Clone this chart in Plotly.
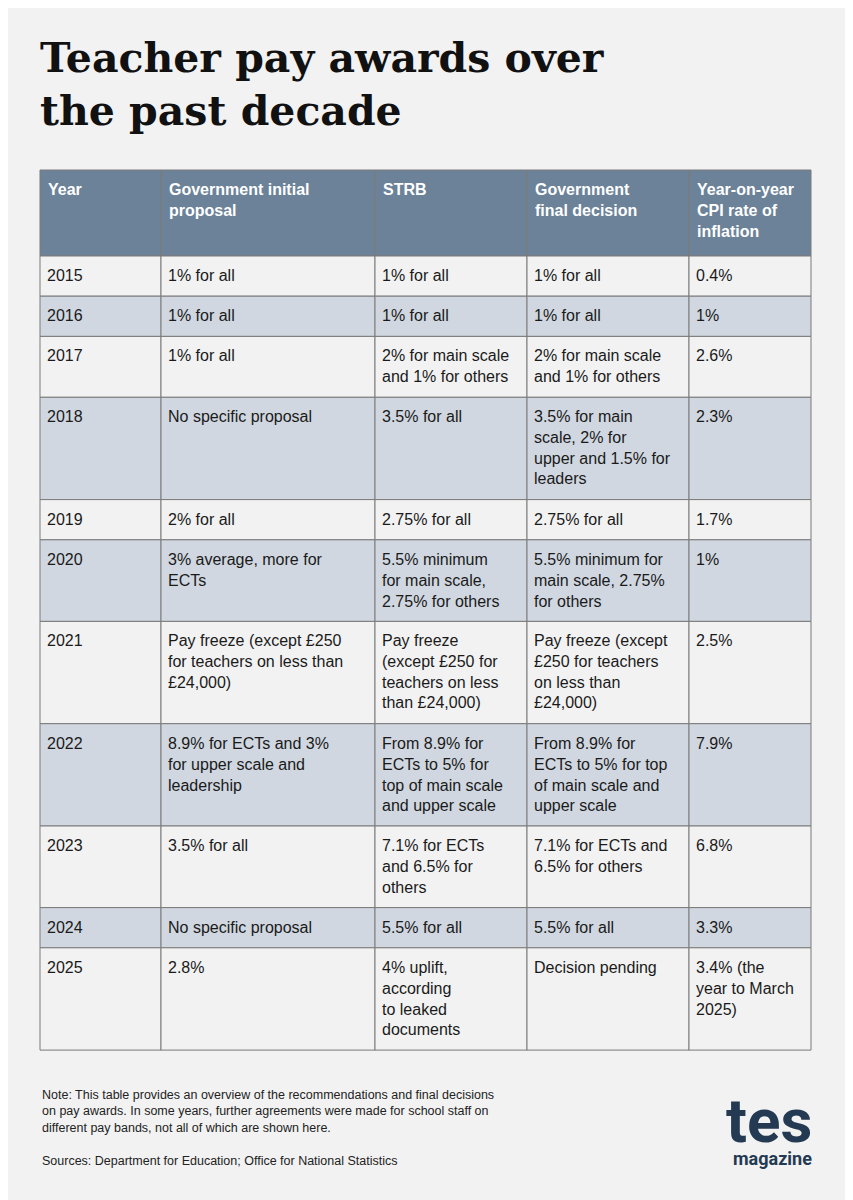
import plotly.graph_objects as go

headers = ["Year", "Government initial<br>proposal", "STRB", "Government<br>final decision", "Year-on-year<br>CPI rate of<br>inflation"]
years = ["2015","2016","2017","2018","2019","2020","2021","2022","2023","2024","2025"]
initial = ["1% for all","1% for all","1% for all","No specific proposal","2% for all",
           "3% average, more for<br>ECTs",
           "Pay freeze (except £250<br>for teachers on less than<br>£24,000)",
           "8.9% for ECTs and 3%<br>for upper scale and<br>leadership",
           "3.5% for all","No specific proposal","2.8%"]
strb = ["1% for all","1% for all","2% for main scale<br>and 1% for others","3.5% for all","2.75% for all",
        "5.5% minimum<br>for main scale,<br>2.75% for others",
        "Pay freeze<br>(except £250 for<br>teachers on less<br>than £24,000)",
        "From 8.9% for<br>ECTs to 5% for<br>top of main scale<br>and upper scale",
        "7.1% for ECTs<br>and 6.5% for<br>others","5.5% for all",
        "4% uplift,<br>according<br>to leaked<br>documents"]
final = ["1% for all","1% for all","2% for main scale<br>and 1% for others",
         "3.5% for main<br>scale, 2% for<br>upper and 1.5% for<br>leaders",
         "2.75% for all","5.5% minimum for<br>main scale, 2.75%<br>for others",
         "Pay freeze (except<br>£250 for teachers<br>on less than<br>£24,000)",
         "From 8.9% for<br>ECTs to 5% for top<br>of main scale and<br>upper scale",
         "7.1% for ECTs and<br>6.5% for others","5.5% for all","Decision pending"]
cpi = ["0.4%","1%","2.6%","2.3%","1.7%","1%","2.5%","7.9%","6.8%","3.3%",
       "3.4% (the<br>year to March<br>2025)"]

cols_x = [40, 161, 375, 527, 689, 811]
BG = "#f2f2f2"; ALT = "#d0d7e0"; HEAD = "#6b8299"; LINE = "#7a7a7a"
FONT = "Liberation Sans, Arial, sans-serif"

shapes = []; ann = []
def nlines(row):
    return max(c.count("<br>") + 1 for c in row)

y = 170
hh = 86
for i in range(5):
    shapes.append(dict(type="rect", x0=cols_x[i], x1=cols_x[i+1], y0=y, y1=y+hh,
                       fillcolor=HEAD, line=dict(color=LINE, width=1), layer="below"))
    ann.append(dict(x=cols_x[i]+6, y=y+9, text="<b>"+headers[i]+"</b>", showarrow=False,
                    xanchor="left", yanchor="top", align="left",
                    font=dict(family=FONT, size=16, color="white")))
y += hh
rows = list(zip(years, initial, strb, final, cpi))
for r, row in enumerate(rows):
    h = 19.5 + 20.7 * nlines(row)
    fill = BG if r % 2 == 0 else ALT
    for i in range(5):
        shapes.append(dict(type="rect", x0=cols_x[i], x1=cols_x[i+1], y0=y, y1=y+h,
                           fillcolor=fill, line=dict(color=LINE, width=1), layer="below"))
        ann.append(dict(x=cols_x[i]+5, y=y+9, text=row[i], showarrow=False,
                        xanchor="left", yanchor="top", align="left",
                        font=dict(family=FONT, size=16, color="#1a1a1a")))
    y += h

ann.append(dict(x=38, y=32, text="<b>Teacher pay awards over<br>the past decade</b>", showarrow=False,
                xanchor="left", yanchor="top", align="left",
                font=dict(family="DejaVu Serif, serif", size=41, color="#111")))
ann.append(dict(x=40, y=1086, text="Note: This table provides an overview of the recommendations and final decisions<br>on pay awards. In some years, further agreements were made for school staff on<br>different pay bands, not all of which are shown here.",
                showarrow=False, xanchor="left", yanchor="top", align="left",
                font=dict(family=FONT, size=12.5, color="#222")))
ann.append(dict(x=40, y=1152, text="Sources: Department for Education; Office for National Statistics",
                showarrow=False, xanchor="left", yanchor="top", align="left",
                font=dict(family=FONT, size=12.5, color="#222")))
ann.append(dict(x=814, y=1082, text="<b>tes</b>", showarrow=False, xanchor="right", yanchor="top",
                font=dict(family="Roboto, sans-serif", size=62, color="#243a52")))
ann.append(dict(x=814, y=1146, text="<b>magazine</b>", showarrow=False, xanchor="right", yanchor="top",
                font=dict(family="Roboto, sans-serif", size=18, color="#243a52")))

fig = go.Figure()
fig.update_layout(width=853, height=1200, margin=dict(l=0, r=0, t=0, b=0),
                  paper_bgcolor=BG, plot_bgcolor=BG, shapes=shapes, annotations=ann,
                  xaxis=dict(range=[8, 861], visible=False, fixedrange=True),
                  yaxis=dict(range=[1208, 8], visible=False, fixedrange=True),
                  showlegend=False)
fig.write_html("out.html")
